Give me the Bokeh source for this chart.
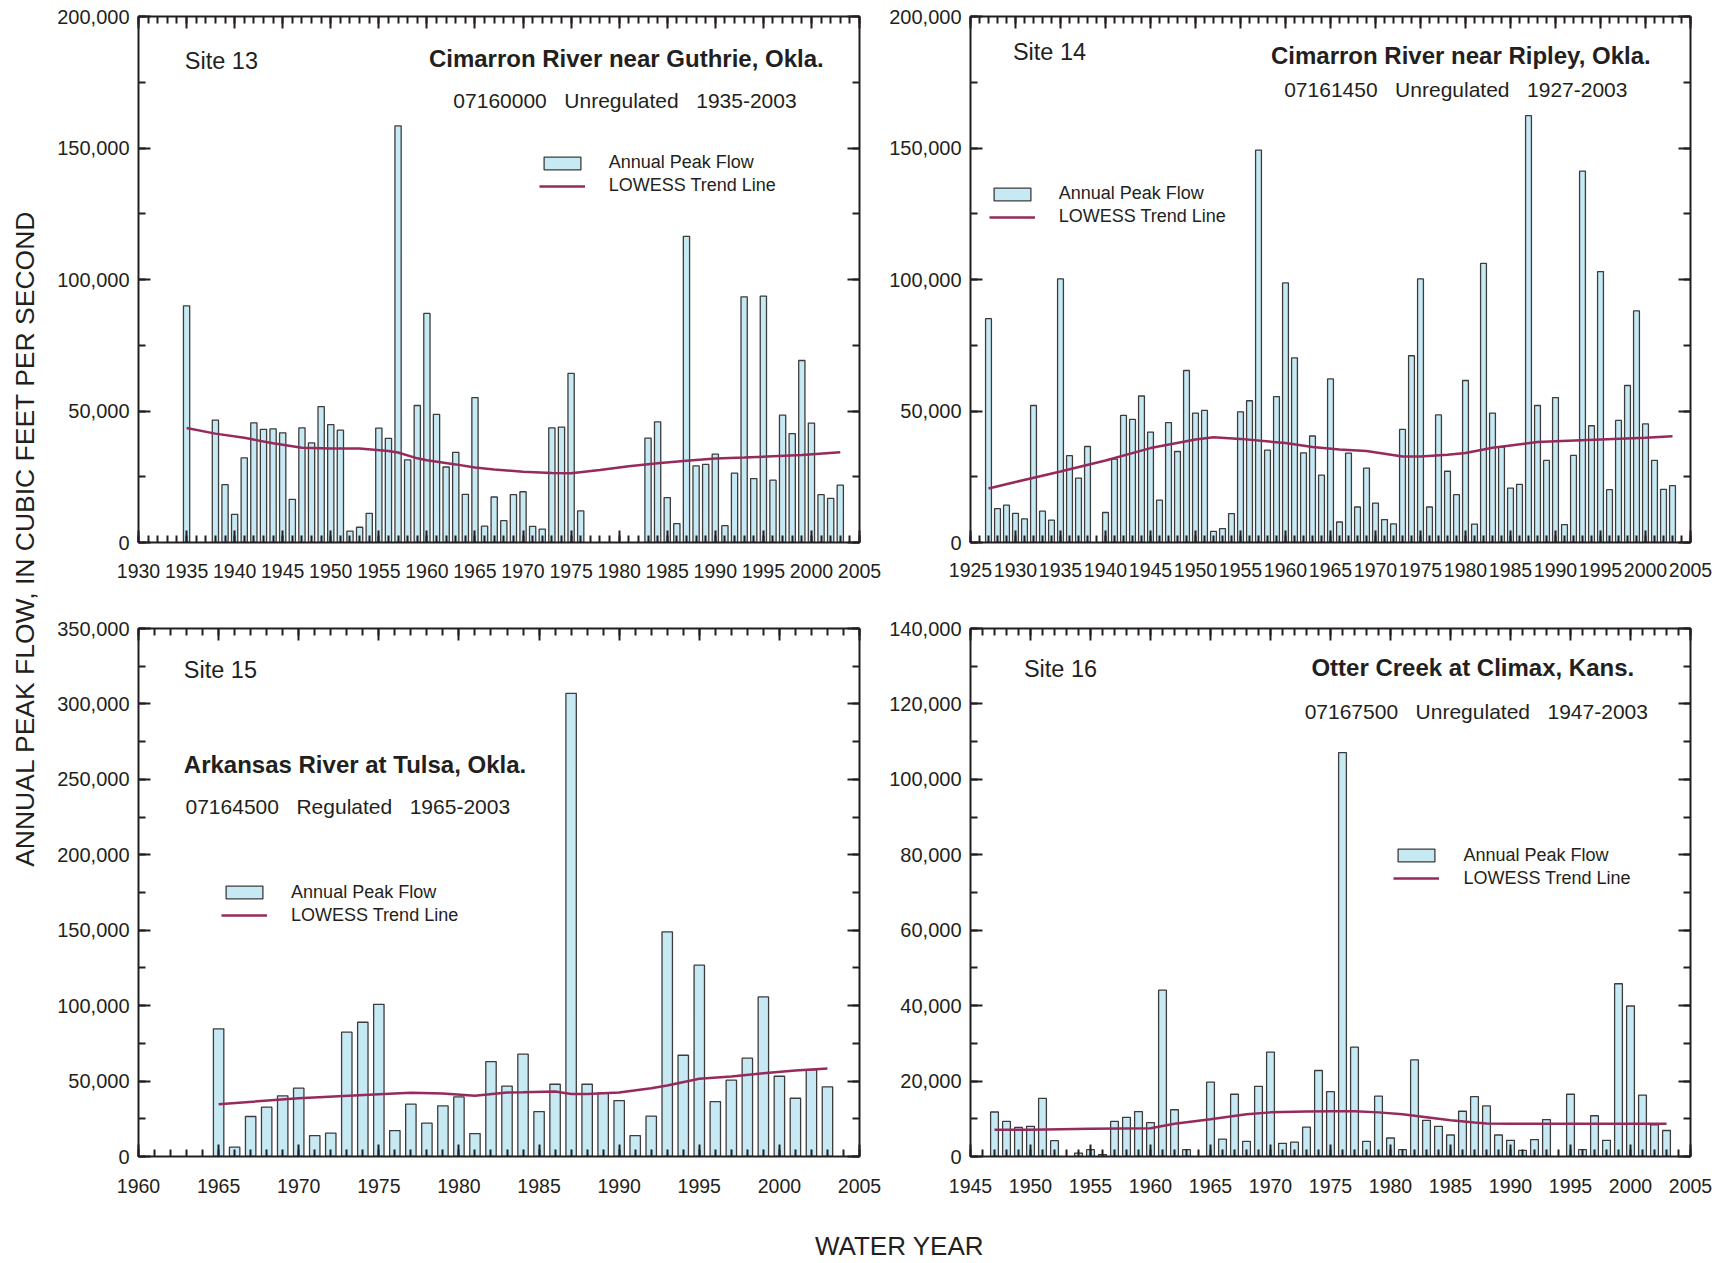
import math
from bokeh.plotting import figure
from bokeh.layouts import row, column
from bokeh.models import (FixedTicker, NumeralTickFormatter, BasicTickFormatter, LinearAxis,
                          Legend, LegendItem, Label, Range1d)
from bokeh.embed import file_html
from bokeh.resources import INLINE

# ---------------- data ----------------
# Site 13 - Cimarron River near Guthrie, Okla.
years_13 = [1935] + list(range(1938, 1977)) + list(range(1983, 2004))
flow_13 = [90000,
           46500, 22000, 10700, 32200, 45500, 43000, 43200, 41700, 16400, 43600,
           37900, 51700, 44800, 42700, 4300, 5800, 11100, 43500, 39600, 158400,
           31400, 52100, 87100, 48700, 28700, 34300, 18300, 55100, 6200, 17300,
           8300, 18200, 19300, 6100, 5100, 43600, 43900, 64300, 12000,
           39700, 45900, 17100, 7200, 116400, 29100, 29700, 33600, 6400, 26400,
           93400, 24300, 93700, 23700, 48400, 41400, 69200, 45400, 18200, 16800, 21800]
trend_years_13 = [1935, 1938, 1941, 1944, 1947, 1950, 1953, 1956, 1957, 1959, 1960, 1963,
                  1965, 1967, 1970, 1973, 1975, 1978, 1981, 1984, 1987, 1990, 1993, 1996,
                  1999, 2003]
trend_13 = [43500, 41400, 39800, 37700, 36000, 35700, 35700, 34800, 34200, 32000, 31300,
            29700, 28500, 27800, 26900, 26400, 26300, 27600, 29000, 30100, 31100, 31900,
            32300, 32800, 33300, 34300]

# Site 14 - Cimarron River near Ripley, Okla.
years_14 = list(range(1927, 1939)) + list(range(1940, 2004))
flow_14 = [85100, 12900, 14200, 11100, 9000, 52100, 11900, 8500, 100200, 33000, 24500, 36500,
           11400, 31700, 48300, 46800, 55700, 42000, 16100, 45600, 34600, 65400, 49200,
           50200, 4200, 5300, 11000, 49700, 53900, 149200, 35100, 55500, 98700, 70200,
           34100, 40500, 25600, 62200, 7800, 34000, 13500, 28300, 15000, 8700, 7100, 43000,
           71000, 100200, 13500, 48500, 27100, 18200, 61600, 7000, 106100, 49200, 36300,
           20700, 22100, 162300, 52100, 31200, 55100, 6800, 33100, 141200, 44400, 103000,
           20100, 46400, 59700, 88100, 45100, 31200, 20200, 21600]
trend_years_14 = [1927, 1930, 1935, 1940, 1945, 1950, 1952, 1955, 1960, 1963, 1966, 1969,
                  1973, 1975, 1978, 1980, 1983, 1985, 1988, 1990, 1995, 2000, 2003]
trend_14 = [20500, 23000, 27000, 31200, 35900, 39200, 40000, 39400, 37800, 36300, 35400,
            34800, 32700, 32700, 33400, 34000, 36000, 36900, 38200, 38500, 39200, 39800, 40400]

# Site 15 - Arkansas River at Tulsa, Okla.
years_15 = list(range(1965, 2004))
flow_15 = [84600, 6200, 26500, 32700, 40200, 45300, 13900, 15500, 82400, 89000, 100900,
           17200, 34700, 22100, 33600, 39500, 15200, 62900, 46700, 67800, 29800, 47900,
           307000, 47900, 42000, 37100, 13900, 26700, 148900, 67100, 126800, 36400, 50600,
           65200, 105800, 53200, 38600, 57400, 46200]
trend_years_15 = [1965, 1970, 1975, 1977, 1979, 1981, 1983, 1984, 1986, 1987, 1988, 1990,
                  1992, 1993, 1995, 1997, 1999, 2001, 2003]
trend_15 = [34700, 38600, 41300, 42200, 41700, 40200, 42400, 42600, 43100, 41500, 41500,
            42400, 45300, 47000, 51500, 53000, 55200, 57000, 58300]

# Site 16 - Otter Creek at Climax, Kans.
years_16 = ([1947, 1948, 1949, 1950, 1951, 1952] + list(range(1954, 1964))
            + list(range(1965, 1994)) + list(range(1995, 2004)))
flow_16 = [11800, 9300, 7700, 8000, 15400, 4200,
           900, 1800, 500, 9300, 10400, 11900, 9000, 44100, 12400, 1800,
           19700, 4600, 16500, 4000, 18600, 27700, 3500, 3800, 7800, 22800, 17200, 107100,
           29000, 4000, 16000, 4900, 1800, 25600, 9600, 8000, 5700, 12000, 15900, 13400,
           5700, 4300, 1600, 4500, 9800,
           16500, 1800, 10800, 4300, 45800, 39900, 16300, 8400, 6900]
trend_years_16 = [1947, 1950, 1955, 1960, 1962, 1965, 1968, 1970, 1973, 1975, 1977, 1979,
                  1981, 1983, 1985, 1987, 1988, 1990, 1995, 2000, 2003]
trend_16 = [7100, 7100, 7350, 7500, 8700, 9900, 11200, 11700, 11950, 12000, 12000, 11700,
            11200, 10400, 9600, 9000, 8750, 8700, 8700, 8700, 8700]

legend_labels = ["Annual Peak Flow", "LOWESS Trend Line"]
y_title = "ANNUAL PEAK FLOW, IN CUBIC FEET PER SECOND"
x_title = "WATER YEAR"

# ---------------- style ----------------
TXT = "#231f20"
BAR_FILL = "#c6e9f4"
BAR_LINE = "#3c3c3c"
TREND = "#962a5c"
FONT = "Liberation Sans"
TICK_FONT = "Liberation Sans"
LEFT_COL = 45
W_LEFT, W_RIGHT = 841, 836


def style_axis(ax, labels, size="20px"):
    ax.axis_line_color = TXT
    ax.axis_line_width = 2
    ax.major_tick_line_color = TXT
    ax.major_tick_line_width = 2
    ax.minor_tick_line_color = TXT
    ax.minor_tick_line_width = 2
    ax.major_tick_in = 12
    ax.major_tick_out = 0
    ax.minor_tick_in = 7
    ax.minor_tick_out = 0
    if labels:
        ax.major_label_text_font = TICK_FONT
        ax.major_label_text_font_size = size
        ax.major_label_text_color = TXT
    else:
        ax.major_label_text_font_size = "0px"
        ax.major_label_text_color = None
        ax.major_label_standoff = 0


def no_grid(p):
    for g in p.grid:
        g.visible = False


def make_panel(cfg):
    x0, x1, ymax = cfg["x0"], cfg["x1"], cfg["ymax"]
    bl, br, bt, bb = cfg["borders"]
    W, H = cfg["size"]
    fw, fh = W - bl - br, H - bt - bb
    page_left, page_top = cfg["page"]
    fl, ft = page_left + bl, page_top + bt

    def to_data(px, py):
        return (x0 + (px - fl) / fw * (x1 - x0), ymax * (1 - (py - ft) / fh))

    p = figure(width=W, height=H, x_range=Range1d(x0, x1), y_range=Range1d(0, ymax),
               output_backend="svg", toolbar_location=None,
               min_border_left=bl, min_border_right=br, min_border_top=bt,
               min_border_bottom=bb, x_axis_location=None, y_axis_location=None)
    no_grid(p)
    p.outline_line_color = None
    p.background_fill_color = "white"
    p.border_fill_color = "white"

    xt = FixedTicker(ticks=list(range(x0, x1 + 1, 5)), minor_ticks=list(range(x0, x1 + 1)))
    yt = FixedTicker(ticks=list(range(0, ymax + 1, cfg["ystep"])),
                     minor_ticks=list(range(0, ymax + 1, cfg["yminor"])))

    bx = LinearAxis(ticker=xt, formatter=BasicTickFormatter(use_scientific=False))
    style_axis(bx, True, "19.5px")
    bx.major_label_standoff = cfg["xstand"]
    p.add_layout(bx, "below")
    tx = LinearAxis(ticker=xt)
    style_axis(tx, False)
    p.add_layout(tx, "above")
    ly = LinearAxis(ticker=yt, formatter=NumeralTickFormatter(format="0,0"))
    style_axis(ly, True, "20px")
    ly.major_label_standoff = 9
    p.add_layout(ly, "left")
    ry = LinearAxis(ticker=yt)
    style_axis(ry, False)
    p.add_layout(ry, "right")

    bars = p.vbar(x=cfg["years"], top=cfg["flows"], bottom=0, width=0.65,
                  fill_color=BAR_FILL, line_color=BAR_LINE, line_width=1.3)
    trend = p.line(cfg["tyears"], cfg["tflows"], line_color=TREND, line_width=2.5)

    gx, gy = cfg["legend"]  # page px: legend glyph box left, first item top
    leg_h = 43
    legend = Legend(items=[LegendItem(label=legend_labels[0], renderers=[bars]),
                           LegendItem(label=legend_labels[1], renderers=[trend])],
                    location=(gx - fl, (ft + fh) - gy - leg_h),
                    glyph_width=46, glyph_height=16, label_standoff=24, spacing=2,
                    padding=0, margin=0, border_line_color=None, background_fill_alpha=0,
                    label_text_font=FONT, label_text_font_size="18px",
                    label_text_color=TXT)
    p.add_layout(legend)

    for (txt, px, py, align, size, style) in cfg["texts"]:
        dx, dy = to_data(px, py)
        p.add_layout(Label(x=dx, y=dy, text=txt, text_align=align, text_baseline="middle",
                           text_font=FONT, text_font_size=size, text_font_style=style,
                           text_color=TXT))
    return p


SP = "\u00a0\u00a0\u00a0"
panels = [
    dict(years=years_13, flows=flow_13, tyears=trend_years_13, tflows=trend_13,
         x0=1930, x1=2005, ymax=200000, ystep=50000, yminor=25000, xstand=21,
         size=(W_LEFT, 600), borders=(93, 27, 14, 58), page=(LEFT_COL, 0),
         legend=(538.7, 153),
         texts=[("Site 13", 184.3, 59, "left", "23.5px", "normal"),
                ("Cimarron River near Guthrie, Okla.", 625.8, 56, "center", "24px", "bold"),
                ("07160000" + SP + "Unregulated" + SP + "1935-2003", 624.5, 98, "center", "21px", "normal")]),
    dict(years=years_14, flows=flow_14, tyears=trend_years_14, tflows=trend_14,
         x0=1925, x1=2005, ymax=200000, ystep=50000, yminor=25000, xstand=20,
         size=(W_RIGHT, 600), borders=(83, 32, 16, 56), page=(LEFT_COL + W_LEFT, 0),
         legend=(987.7, 186),
         texts=[("Site 14", 1011.5, 52, "left", "23.5px", "normal"),
                ("Cimarron River near Ripley, Okla.", 1460, 55, "center", "24px", "bold"),
                ("07161450" + SP + "Unregulated" + SP + "1927-2003", 1455, 89, "center", "21px", "normal")]),
    dict(years=years_15, flows=flow_15, tyears=trend_years_15, tflows=trend_15,
         x0=1960, x1=2005, ymax=350000, ystep=50000, yminor=25000, xstand=22,
         size=(W_LEFT, 606), borders=(93, 27, 28, 50), page=(LEFT_COL, 600),
         legend=(221.1, 882.5),
         texts=[("Site 15", 183.3, 669, "left", "23.5px", "normal"),
                ("Arkansas River at Tulsa, Okla.", 183.3, 764, "left", "24px", "bold"),
                ("07164500" + SP + "Regulated" + SP + "1965-2003", 185, 806, "left", "21px", "normal")]),
    dict(years=years_16, flows=flow_16, tyears=trend_years_16, tflows=trend_16,
         x0=1945, x1=2005, ymax=140000, ystep=20000, yminor=10000, xstand=22,
         size=(W_RIGHT, 606), borders=(83, 32, 28, 50), page=(LEFT_COL + W_LEFT, 600),
         legend=(1392.4, 845.5),
         texts=[("Site 16", 1022.5, 668, "left", "23.5px", "normal"),
                ("Otter Creek at Climax, Kans.", 1472, 667, "center", "24px", "bold"),
                ("07167500" + SP + "Unregulated" + SP + "1947-2003", 1475.5, 711, "center", "21px", "normal")]),
]

figs = [make_panel(c) for c in panels]

ylab = figure(width=LEFT_COL, height=1206, x_range=Range1d(0, LEFT_COL), y_range=Range1d(0, 1206),
              output_backend="svg", toolbar_location=None, min_border=0,
              x_axis_location=None, y_axis_location=None)
no_grid(ylab)
ylab.outline_line_color = None
ylab.add_layout(Label(x=24.5, y=1206 - 538, text=y_title, angle=math.pi / 2, text_align="center",
                      text_baseline="middle", text_font=FONT, text_font_size="26.5px",
                      text_color=TXT))

xlab = figure(width=1722, height=57, x_range=Range1d(0, 1722), y_range=Range1d(0, 57),
              output_backend="svg", toolbar_location=None, min_border=0,
              x_axis_location=None, y_axis_location=None)
no_grid(xlab)
xlab.outline_line_color = None
xlab.add_layout(Label(x=899, y=57 - (1245.5 - 1206), text=x_title, text_align="center",
                      text_baseline="middle", text_font=FONT, text_font_size="26px",
                      text_color=TXT))

layout = column(row(ylab, column(row(figs[0], figs[1]), row(figs[2], figs[3]))), xlab)

with open("out.html", "w") as f:
    f.write(file_html(layout, INLINE))
